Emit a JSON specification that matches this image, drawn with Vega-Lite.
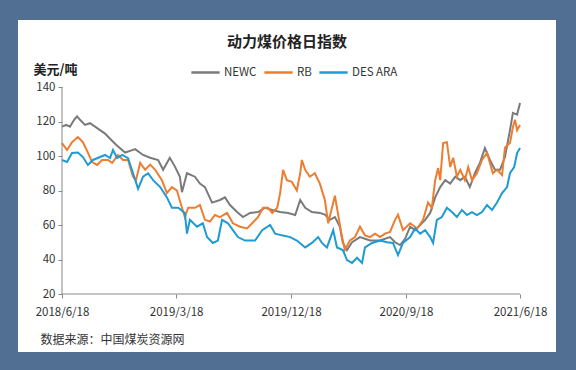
{
  "$schema": "https://vega.github.io/schema/vega-lite/v6.json",
  "width": 538,
  "height": 332,
  "autosize": {"type": "none"},
  "padding": {"left": 18, "top": 20, "right": 20, "bottom": 18},
  "background": "#516f92",
  "config": {
    "view": {"fill": "white", "stroke": null},
    "font": "Noto Sans CJK SC"
  },
  "title": {
    "text": "动力煤价格日指数",
    "fontSize": 15,
    "fontWeight": "bold",
    "color": "#222222",
    "baseline": "middle",
    "offset": 0,
    "dy": 37,
    "anchor": "middle",
    "dx": 0
  },
  "data": {
    "values": [
      {"d":"2018-06-18","s":"NEWC","v":117},{"d":"2018-06-28","s":"NEWC","v":118},{"d":"2018-07-07","s":"NEWC","v":117},{"d":"2018-07-17","s":"NEWC","v":121},{"d":"2018-07-24","s":"NEWC","v":123},{"d":"2018-07-31","s":"NEWC","v":121},{"d":"2018-08-12","s":"NEWC","v":118},{"d":"2018-08-24","s":"NEWC","v":119},{"d":"2018-09-05","s":"NEWC","v":117},{"d":"2018-09-17","s":"NEWC","v":115},{"d":"2018-09-29","s":"NEWC","v":113},{"d":"2018-10-11","s":"NEWC","v":110},{"d":"2018-10-28","s":"NEWC","v":106},{"d":"2018-11-16","s":"NEWC","v":102},{"d":"2018-11-28","s":"NEWC","v":103},{"d":"2018-12-10","s":"NEWC","v":104},{"d":"2018-12-29","s":"NEWC","v":100.6},{"d":"2019-01-15","s":"NEWC","v":99},{"d":"2019-02-03","s":"NEWC","v":97.7},{"d":"2019-02-15","s":"NEWC","v":92},{"d":"2019-03-03","s":"NEWC","v":99},{"d":"2019-03-15","s":"NEWC","v":94},{"d":"2019-03-27","s":"NEWC","v":88},{"d":"2019-04-01","s":"NEWC","v":79},{"d":"2019-04-13","s":"NEWC","v":90},{"d":"2019-05-02","s":"NEWC","v":88},{"d":"2019-05-14","s":"NEWC","v":84},{"d":"2019-05-26","s":"NEWC","v":82},{"d":"2019-06-12","s":"NEWC","v":73},{"d":"2019-07-01","s":"NEWC","v":74.5},{"d":"2019-07-13","s":"NEWC","v":76},{"d":"2019-07-25","s":"NEWC","v":71.6},{"d":"2019-08-11","s":"NEWC","v":67.5},{"d":"2019-08-25","s":"NEWC","v":64.6},{"d":"2019-09-11","s":"NEWC","v":67},{"d":"2019-09-30","s":"NEWC","v":67.5},{"d":"2019-10-17","s":"NEWC","v":70},{"d":"2019-11-03","s":"NEWC","v":68.7},{"d":"2019-11-22","s":"NEWC","v":67.5},{"d":"2019-12-11","s":"NEWC","v":67},{"d":"2019-12-28","s":"NEWC","v":65.8},{"d":"2020-01-09","s":"NEWC","v":74.5},{"d":"2020-01-21","s":"NEWC","v":70},{"d":"2020-02-06","s":"NEWC","v":67.5},{"d":"2020-02-25","s":"NEWC","v":67},{"d":"2020-03-08","s":"NEWC","v":66},{"d":"2020-03-20","s":"NEWC","v":63},{"d":"2020-04-01","s":"NEWC","v":64.6},{"d":"2020-04-13","s":"NEWC","v":59},{"d":"2020-04-20","s":"NEWC","v":49.6},{"d":"2020-04-30","s":"NEWC","v":45.5},{"d":"2020-05-12","s":"NEWC","v":50},{"d":"2020-05-31","s":"NEWC","v":53},{"d":"2020-06-24","s":"NEWC","v":51},{"d":"2020-07-18","s":"NEWC","v":51},{"d":"2020-08-11","s":"NEWC","v":53},{"d":"2020-08-23","s":"NEWC","v":50},{"d":"2020-09-04","s":"NEWC","v":48.4},{"d":"2020-09-16","s":"NEWC","v":52},{"d":"2020-09-28","s":"NEWC","v":59},{"d":"2020-10-10","s":"NEWC","v":57},{"d":"2020-11-03","s":"NEWC","v":63},{"d":"2020-11-15","s":"NEWC","v":67},{"d":"2020-11-27","s":"NEWC","v":76},{"d":"2020-12-09","s":"NEWC","v":82},{"d":"2020-12-21","s":"NEWC","v":86},{"d":"2021-01-02","s":"NEWC","v":84},{"d":"2021-01-14","s":"NEWC","v":88},{"d":"2021-01-26","s":"NEWC","v":86},{"d":"2021-02-06","s":"NEWC","v":88},{"d":"2021-02-18","s":"NEWC","v":82},{"d":"2021-03-02","s":"NEWC","v":90},{"d":"2021-03-14","s":"NEWC","v":96},{"d":"2021-03-26","s":"NEWC","v":104.6},{"d":"2021-04-07","s":"NEWC","v":97.7},{"d":"2021-04-19","s":"NEWC","v":92},{"d":"2021-05-01","s":"NEWC","v":92},{"d":"2021-05-13","s":"NEWC","v":99.4},{"d":"2021-05-25","s":"NEWC","v":115},{"d":"2021-06-01","s":"NEWC","v":125},{"d":"2021-06-11","s":"NEWC","v":124},{"d":"2021-06-18","s":"NEWC","v":130.7},

      {"d":"2018-06-18","s":"RB","v":107.5},{"d":"2018-06-30","s":"RB","v":103.5},{"d":"2018-07-12","s":"RB","v":108},{"d":"2018-07-26","s":"RB","v":111},{"d":"2018-08-07","s":"RB","v":108},{"d":"2018-08-19","s":"RB","v":102},{"d":"2018-08-29","s":"RB","v":96.5},{"d":"2018-09-10","s":"RB","v":94.8},{"d":"2018-09-22","s":"RB","v":97.7},{"d":"2018-10-06","s":"RB","v":97.7},{"d":"2018-10-16","s":"RB","v":96},{"d":"2018-10-30","s":"RB","v":100.6},{"d":"2018-11-11","s":"RB","v":97.7},{"d":"2018-11-23","s":"RB","v":97.7},{"d":"2018-12-05","s":"RB","v":88},{"d":"2018-12-12","s":"RB","v":86},{"d":"2018-12-22","s":"RB","v":96},{"d":"2019-01-03","s":"RB","v":92},{"d":"2019-01-15","s":"RB","v":95},{"d":"2019-01-27","s":"RB","v":92},{"d":"2019-02-12","s":"RB","v":86},{"d":"2019-02-24","s":"RB","v":78.5},{"d":"2019-03-08","s":"RB","v":82},{"d":"2019-03-20","s":"RB","v":80},{"d":"2019-04-01","s":"RB","v":70},{"d":"2019-04-08","s":"RB","v":64.6},{"d":"2019-04-16","s":"RB","v":70},{"d":"2019-05-02","s":"RB","v":70},{"d":"2019-05-14","s":"RB","v":71.6},{"d":"2019-05-26","s":"RB","v":63},{"d":"2019-06-07","s":"RB","v":62},{"d":"2019-06-19","s":"RB","v":65.8},{"d":"2019-07-01","s":"RB","v":64.6},{"d":"2019-07-18","s":"RB","v":67},{"d":"2019-08-01","s":"RB","v":61},{"d":"2019-08-18","s":"RB","v":59},{"d":"2019-09-04","s":"RB","v":58},{"d":"2019-09-16","s":"RB","v":61},{"d":"2019-09-30","s":"RB","v":64.6},{"d":"2019-10-12","s":"RB","v":70},{"d":"2019-10-24","s":"RB","v":70},{"d":"2019-11-03","s":"RB","v":67},{"d":"2019-11-15","s":"RB","v":70},{"d":"2019-11-22","s":"RB","v":78.5},{"d":"2019-11-29","s":"RB","v":92},{"d":"2019-12-08","s":"RB","v":86},{"d":"2019-12-20","s":"RB","v":85},{"d":"2020-01-01","s":"RB","v":80},{"d":"2020-01-09","s":"RB","v":90},{"d":"2020-01-13","s":"RB","v":97.7},{"d":"2020-01-21","s":"RB","v":92},{"d":"2020-02-01","s":"RB","v":88},{"d":"2020-02-13","s":"RB","v":90},{"d":"2020-02-25","s":"RB","v":84},{"d":"2020-03-08","s":"RB","v":74.5},{"d":"2020-03-16","s":"RB","v":61},{"d":"2020-03-25","s":"RB","v":70},{"d":"2020-04-01","s":"RB","v":77},{"d":"2020-04-08","s":"RB","v":67},{"d":"2020-04-18","s":"RB","v":53},{"d":"2020-04-25","s":"RB","v":45.5},{"d":"2020-05-07","s":"RB","v":51},{"d":"2020-05-19","s":"RB","v":53},{"d":"2020-05-31","s":"RB","v":59},{"d":"2020-06-12","s":"RB","v":54},{"d":"2020-06-24","s":"RB","v":53},{"d":"2020-07-06","s":"RB","v":55},{"d":"2020-07-18","s":"RB","v":53},{"d":"2020-07-30","s":"RB","v":55},{"d":"2020-08-11","s":"RB","v":56},{"d":"2020-08-23","s":"RB","v":63},{"d":"2020-08-30","s":"RB","v":66},{"d":"2020-09-11","s":"RB","v":57},{"d":"2020-09-28","s":"RB","v":61},{"d":"2020-10-15","s":"RB","v":58},{"d":"2020-10-29","s":"RB","v":63},{"d":"2020-11-10","s":"RB","v":73},{"d":"2020-11-19","s":"RB","v":70},{"d":"2020-11-27","s":"RB","v":86},{"d":"2020-12-04","s":"RB","v":93},{"d":"2020-12-09","s":"RB","v":86},{"d":"2020-12-16","s":"RB","v":107.5},{"d":"2020-12-25","s":"RB","v":108},{"d":"2021-01-02","s":"RB","v":93.6},{"d":"2021-01-09","s":"RB","v":99},{"d":"2021-01-18","s":"RB","v":88},{"d":"2021-01-26","s":"RB","v":92},{"d":"2021-02-06","s":"RB","v":86},{"d":"2021-02-14","s":"RB","v":93.6},{"d":"2021-02-23","s":"RB","v":86},{"d":"2021-03-07","s":"RB","v":90},{"d":"2021-03-19","s":"RB","v":97.7},{"d":"2021-03-31","s":"RB","v":101.7},{"d":"2021-04-07","s":"RB","v":96},{"d":"2021-04-14","s":"RB","v":90},{"d":"2021-04-24","s":"RB","v":92},{"d":"2021-05-06","s":"RB","v":89},{"d":"2021-05-13","s":"RB","v":105},{"d":"2021-05-25","s":"RB","v":107.5},{"d":"2021-06-01","s":"RB","v":116.8},{"d":"2021-06-06","s":"RB","v":121},{"d":"2021-06-11","s":"RB","v":115},{"d":"2021-06-18","s":"RB","v":118},

      {"d":"2018-06-18","s":"DES ARA","v":97.7},{"d":"2018-06-30","s":"DES ARA","v":96.5},{"d":"2018-07-12","s":"DES ARA","v":101.7},{"d":"2018-07-26","s":"DES ARA","v":102},{"d":"2018-08-07","s":"DES ARA","v":99.4},{"d":"2018-08-19","s":"DES ARA","v":94.8},{"d":"2018-08-31","s":"DES ARA","v":97.7},{"d":"2018-09-17","s":"DES ARA","v":99.4},{"d":"2018-09-29","s":"DES ARA","v":100.6},{"d":"2018-10-11","s":"DES ARA","v":98.8},{"d":"2018-10-18","s":"DES ARA","v":103.5},{"d":"2018-10-28","s":"DES ARA","v":98.8},{"d":"2018-11-09","s":"DES ARA","v":100.6},{"d":"2018-11-23","s":"DES ARA","v":98.8},{"d":"2018-12-05","s":"DES ARA","v":90},{"d":"2018-12-17","s":"DES ARA","v":81},{"d":"2018-12-29","s":"DES ARA","v":88},{"d":"2019-01-10","s":"DES ARA","v":90},{"d":"2019-01-22","s":"DES ARA","v":86},{"d":"2019-02-08","s":"DES ARA","v":82},{"d":"2019-02-24","s":"DES ARA","v":76},{"d":"2019-03-08","s":"DES ARA","v":70},{"d":"2019-03-23","s":"DES ARA","v":70},{"d":"2019-04-08","s":"DES ARA","v":67},{"d":"2019-04-13","s":"DES ARA","v":55},{"d":"2019-04-20","s":"DES ARA","v":63},{"d":"2019-05-07","s":"DES ARA","v":59},{"d":"2019-05-21","s":"DES ARA","v":61},{"d":"2019-05-31","s":"DES ARA","v":53},{"d":"2019-06-14","s":"DES ARA","v":49.6},{"d":"2019-06-26","s":"DES ARA","v":51},{"d":"2019-07-06","s":"DES ARA","v":63},{"d":"2019-07-20","s":"DES ARA","v":61},{"d":"2019-08-01","s":"DES ARA","v":57},{"d":"2019-08-13","s":"DES ARA","v":53},{"d":"2019-08-30","s":"DES ARA","v":51},{"d":"2019-09-23","s":"DES ARA","v":51},{"d":"2019-10-10","s":"DES ARA","v":57},{"d":"2019-10-29","s":"DES ARA","v":60},{"d":"2019-11-10","s":"DES ARA","v":55},{"d":"2019-11-26","s":"DES ARA","v":54},{"d":"2019-12-16","s":"DES ARA","v":53},{"d":"2020-01-01","s":"DES ARA","v":51},{"d":"2020-01-21","s":"DES ARA","v":47},{"d":"2020-02-06","s":"DES ARA","v":49.6},{"d":"2020-02-21","s":"DES ARA","v":53},{"d":"2020-03-01","s":"DES ARA","v":49.6},{"d":"2020-03-13","s":"DES ARA","v":47},{"d":"2020-03-28","s":"DES ARA","v":57},{"d":"2020-04-06","s":"DES ARA","v":47},{"d":"2020-04-20","s":"DES ARA","v":45.5},{"d":"2020-04-30","s":"DES ARA","v":39.7},{"d":"2020-05-12","s":"DES ARA","v":38},{"d":"2020-05-24","s":"DES ARA","v":41},{"d":"2020-06-05","s":"DES ARA","v":38},{"d":"2020-06-12","s":"DES ARA","v":47},{"d":"2020-06-29","s":"DES ARA","v":49.6},{"d":"2020-07-18","s":"DES ARA","v":51},{"d":"2020-08-04","s":"DES ARA","v":50},{"d":"2020-08-18","s":"DES ARA","v":49.6},{"d":"2020-08-30","s":"DES ARA","v":42.6},{"d":"2020-09-11","s":"DES ARA","v":49.6},{"d":"2020-09-28","s":"DES ARA","v":53},{"d":"2020-10-10","s":"DES ARA","v":58},{"d":"2020-10-22","s":"DES ARA","v":55},{"d":"2020-11-03","s":"DES ARA","v":57},{"d":"2020-11-15","s":"DES ARA","v":53},{"d":"2020-11-22","s":"DES ARA","v":49.6},{"d":"2020-12-01","s":"DES ARA","v":63},{"d":"2020-12-13","s":"DES ARA","v":64.6},{"d":"2020-12-25","s":"DES ARA","v":70},{"d":"2021-01-06","s":"DES ARA","v":67.5},{"d":"2021-01-18","s":"DES ARA","v":64.6},{"d":"2021-01-30","s":"DES ARA","v":68.7},{"d":"2021-02-11","s":"DES ARA","v":65.8},{"d":"2021-02-23","s":"DES ARA","v":67.5},{"d":"2021-03-07","s":"DES ARA","v":65.8},{"d":"2021-03-19","s":"DES ARA","v":67.5},{"d":"2021-03-31","s":"DES ARA","v":71.6},{"d":"2021-04-12","s":"DES ARA","v":68.7},{"d":"2021-04-24","s":"DES ARA","v":73},{"d":"2021-05-06","s":"DES ARA","v":78.5},{"d":"2021-05-18","s":"DES ARA","v":82},{"d":"2021-05-25","s":"DES ARA","v":90},{"d":"2021-06-04","s":"DES ARA","v":93.6},{"d":"2021-06-11","s":"DES ARA","v":101.7},{"d":"2021-06-18","s":"DES ARA","v":104.6}
    ]
  },
  "layer": [
    {
      "mark": {"type": "line", "strokeWidth": 2, "interpolate": "linear"},
      "encoding": {
        "x": {
          "field": "d", "type": "temporal",
          "scale": {"type": "utc", "domain": [1520182080000, 1631413440000], "nice": false},
          "axis": {
            "values": [
              {"year": 2018, "month": 6, "date": 18, "utc": true},
              {"year": 2019, "month": 3, "date": 18, "utc": true},
              {"year": 2019, "month": 12, "date": 18, "utc": true},
              {"year": 2020, "month": 9, "date": 18, "utc": true},
              {"year": 2021, "month": 6, "date": 18, "utc": true}
            ],
            "format": "%Y/%-m/%-d",
            "offset": -58,
            "domain": false,
            "grid": false,
            "ticks": true,
            "tickSize": 4,
            "tickColor": "#888888",
            "labelFontSize": 11.5,
            "labelColor": "#333333",
            "labelPadding": 8,
            "labelFlush": false,
            "labelOverlap": false,
            "title": "数据来源：中国煤炭资源网",
            "titleFontSize": 12,
            "titleFontWeight": "normal",
            "titleColor": "#333333",
            "titleAnchor": "start",
            "titleAlign": "left",
            "titleBaseline": "middle",
            "titleX": 22,
            "titleY": 45
          }
        },
        "y": {
          "field": "v", "type": "quantitative",
          "scale": {"domain": [-13.62, 178.84], "nice": false, "zero": false},
          "axis": {
            "values": [20, 40, 60, 80, 100, 120, 140],
            "offset": -44,
            "domain": false,
            "grid": false,
            "tickSize": 4,
            "tickColor": "#888888",
            "labelFontSize": 11.5,
            "labelColor": "#333333",
            "labelPadding": 3,
            "title": "美元/吨",
            "titleAngle": 0,
            "titleFontSize": 13,
            "titleFontWeight": "bold",
            "titleColor": "#222222",
            "titleAlign": "left",
            "titleBaseline": "middle",
            "titleX": -29,
            "titleY": 49
          }
        },
        "color": {
          "field": "s", "type": "nominal",
          "scale": {"domain": ["NEWC", "RB", "DES ARA"], "range": ["#7a7a7a", "#ed7d31", "#1f9bd4"]},
          "legend": {
            "title": null,
            "orient": "none",
            "direction": "horizontal",
            "legendX": 172,
            "legendY": 37,
            "symbolType": "stroke",
            "symbolSize": 800,
            "symbolStrokeWidth": 2.5,
            "labelFontSize": 11.5,
            "labelColor": "#333333",
            "columnPadding": 2,
            "labelOffset": 3
          }
        },
        "order": {"field": "d", "type": "temporal"}
      }
    },
    {
      "data": {"values": [{"x1": "2018-06-18", "y1": 20, "y2": 140}]},
      "mark": {"type": "rule", "color": "#888888", "strokeWidth": 1},
      "encoding": {
        "x": {"field": "x1", "type": "temporal"},
        "y": {"field": "y1", "type": "quantitative"},
        "y2": {"field": "y2"}
      }
    },
    {
      "data": {"values": [{"x1": "2018-06-18", "x2": "2021-06-18", "y1": 20}]},
      "mark": {"type": "rule", "color": "#888888", "strokeWidth": 1},
      "encoding": {
        "x": {"field": "x1", "type": "temporal"},
        "x2": {"field": "x2"},
        "y": {"field": "y1", "type": "quantitative"}
      }
    }
  ]
}
